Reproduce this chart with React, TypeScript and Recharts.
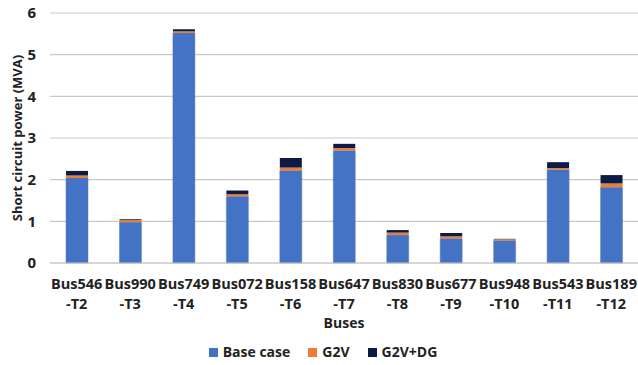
import React from 'react';
import { BarChart, Bar, XAxis, YAxis, CartesianGrid, Legend } from 'recharts';

const buses = ['Bus546', 'Bus990', 'Bus749', 'Bus072', 'Bus158', 'Bus647', 'Bus830', 'Bus677', 'Bus948', 'Bus543', 'Bus189'];
const transformers = ['-T2', '-T3', '-T4', '-T5', '-T6', '-T7', '-T8', '-T9', '-T10', '-T11', '-T12'];
const baseCase = [2.04, 0.98, 5.52, 1.6, 2.22, 2.7, 0.67, 0.59, 0.54, 2.24, 1.82];
const g2v = [0.06, 0.05, 0.04, 0.05, 0.07, 0.06, 0.06, 0.05, 0.03, 0.04, 0.09];
const g2vDg = [0.11, 0.02, 0.05, 0.09, 0.23, 0.1, 0.06, 0.08, 0.01, 0.14, 0.2];
const yTicks = [0, 1, 2, 3, 4, 5, 6];

const data = buses.map((b, i) => ({
  name: b + transformers[i],
  base: baseCase[i],
  g2v: g2v[i],
  dg: g2vDg[i],
}));

const FONT = '"Open Sans", "Noto Sans", sans-serif';
const COLORS = { base: '#4472C4', g2v: '#ED7D31', dg: '#0D1A45' };

const XTick = (props: any) => {
  const { x, y, index } = props;
  return (
    <g transform={`translate(${x},${y})`}>
      <text textAnchor="middle" fontFamily={FONT} fontWeight={700} fontSize={14.5} fill="#222">
        <tspan x={0} dy={18}>{buses[index]}</tspan>
        <tspan x={0} dy={19.5}>{transformers[index]}</tspan>
      </text>
    </g>
  );
};

const LegendContent = () => {
  const items = [
    { label: 'Base case', color: COLORS.base },
    { label: 'G2V', color: COLORS.g2v },
    { label: 'G2V+DG', color: COLORS.dg },
  ];
  return (
    <div style={{ display: 'flex', justifyContent: 'center', gap: 18, fontFamily: FONT, fontWeight: 700, fontSize: 14, color: '#222', paddingLeft: 8, paddingTop: 8, lineHeight: '18px' }}>
      {items.map((it) => (
        <div key={it.label} style={{ display: 'flex', alignItems: 'center', gap: 5 }}>
          <span style={{ width: 9, height: 9, background: it.color, display: 'inline-block' }} />
          <span>{it.label}</span>
        </div>
      ))}
    </div>
  );
};

export default function App() {
  return (
    <div style={{ position: 'absolute', left: 0, top: 0, width: 638, height: 365, background: '#fff' }}>
      <BarChart width={638} height={365} data={data} margin={{ top: 13, right: 0, left: 0, bottom: 0 }}>
        <CartesianGrid vertical={false} stroke="#c8c8c8" strokeWidth={1.2} />
        <XAxis
          dataKey="name"
          tick={<XTick />}
          interval={0}
          axisLine={{ stroke: '#c8c8c8' }}
          tickLine={false}
          height={72}
          label={{ value: 'Buses', position: 'insideBottom', offset: 7, fontFamily: FONT, fontWeight: 700, fontSize: 14, fill: '#222' }}
        />
        <YAxis
          width={50}
          domain={[0, 6]}
          ticks={yTicks}
          axisLine={false}
          tickLine={false}
          tickSize={0}
          tickMargin={14}
          tick={{ fontFamily: FONT, fontWeight: 700, fontSize: 15, fill: '#222' }}
          label={{ value: 'Short circuit power (MVA)', angle: -90, position: 'insideLeft', offset: 17, style: { textAnchor: 'middle' }, fontFamily: FONT, fontWeight: 700, fontSize: 13, fill: '#222' }}
        />
        <Legend verticalAlign="bottom" height={30} content={<LegendContent />} />
        <Bar dataKey="base" stackId="a" fill={COLORS.base} stroke="#5b7fc0" strokeWidth={0.5} isAnimationActive={false} barSize={22} />
        <Bar dataKey="g2v" stackId="a" fill={COLORS.g2v} isAnimationActive={false} barSize={22} />
        <Bar dataKey="dg" stackId="a" fill={COLORS.dg} isAnimationActive={false} barSize={22} />
      </BarChart>
    </div>
  );
}
